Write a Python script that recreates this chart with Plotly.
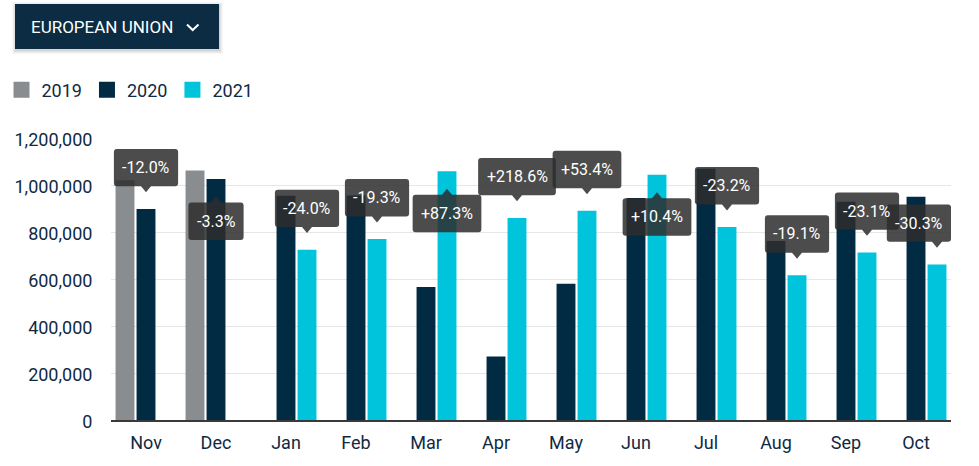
import plotly.graph_objects as go

# ---------------- data ----------------
months = ["Nov", "Dec", "Jan", "Feb", "Mar", "Apr", "May", "Jun", "Jul", "Aug", "Sep", "Oct"]
series_names = ["2019", "2020", "2021"]
sales_2019 = [1020000, 1062000, None, None, None, None, None, None, None, None, None, None]
sales_2020 = [898000, 1026000, 954000, 955000, 566000, 270000, 580000, 945000, 1069000, 762000, 929000, 950000]
sales_2021 = [None, None, 725000, 770000, 1059000, 860000, 890000, 1044000, 821000, 616000, 713000, 662000]
yoy_change = ["-12.0%", "-3.3%", "-24.0%", "-19.3%", "+87.3%", "+218.6%", "+53.4%",
              "+10.4%", "-23.2%", "-19.1%", "-23.1%", "-30.3%"]
y_ticks = [0, 200000, 400000, 600000, 800000, 1000000, 1200000]
region_label = "EUROPEAN UNION"

# ---------------- style ----------------
COLORS = ["#8a8d8f", "#002b42", "#00c3dc"]
TEXT = "#0f2a42"
FONT = "Roboto"
W, H = 979, 466
ML, MR, MT, MB = 111, 28, 138, 46
PW, PH = W - ML - MR, H - MT - MB
tip_below = [False, True, False, False, True, False, False, True, False, False, False, False]

fig = go.Figure()
data = [sales_2019, sales_2020, sales_2021]
for name, vals, col in zip(series_names, data, COLORS):
    fig.add_trace(go.Bar(x=list(range(len(months))), y=vals, name=name, marker_color=col,
                         marker_line_width=0, showlegend=False, legendgroup=name,
                         hoverinfo="skip"))
for name, col in zip(series_names, COLORS):
    fig.add_trace(go.Scatter(x=[None], y=[None], mode="markers", name=name, legendgroup=name,
                             marker=dict(symbol="square", size=16, color=col)))

# ---------------- tooltips ----------------
CW = {"-": 0.27, "+": 0.554, ".": 0.263, "%": 0.732}
def text_w(s, size=16):
    return sum(CW.get(c, 0.5615) for c in s) * size

n = len(months)
group = 0.9
slot = group / 3
shapes = []
annotations = []
for i, lab in enumerate(yoy_change):
    if sales_2021[i] is None:
        off, val = 0.0, sales_2020[i]
    else:
        off, val = slot, sales_2021[i]
    xc = i + off
    cx_px = ML + (xc + 0.5) / n * PW
    bw = text_w(lab) + 17
    dx = 0.0
    if cx_px + bw / 2 > ML + PW:
        dx = (ML + PW) - (cx_px + bw / 2)
    if cx_px - bw / 2 + dx < ML + 2:
        dx = (ML + 2) - (cx_px - bw / 2)
    l, r = -bw / 2 + dx, bw / 2 + dx
    rr = 3
    hw = 5
    if not tip_below[i]:
        tip, yb, yt = 16.6, 22.6, 60.0
        path = (f"M{l+rr},{yt} H{r-rr} Q{r},{yt} {r},{yt-rr} V{yb+rr} Q{r},{yb} {r-rr},{yb} "
                f"H{hw} L0,{tip} L{-hw},{yb} H{l+rr} Q{l},{yb} {l},{yb+rr} V{yt-rr} "
                f"Q{l},{yt} {l+rr},{yt} Z")
        ymid = (yb + yt) / 2
    else:
        tip, yt, yb = -17.7, -23.5, -61.0
        path = (f"M{l+rr},{yt} H{-hw} L0,{tip} L{hw},{yt} H{r-rr} Q{r},{yt} {r},{yt-rr} "
                f"V{yb+rr} Q{r},{yb} {r-rr},{yb} H{l+rr} Q{l},{yb} {l},{yb+rr} "
                f"V{yt-rr} Q{l},{yt} {l+rr},{yt} Z")
        ymid = (yb + yt) / 2
    shapes.append(dict(type="path", xref="x", yref="y", xsizemode="pixel", ysizemode="pixel",
                       xanchor=xc, yanchor=val, path=path, fillcolor="rgba(45,45,45,0.85)",
                       line=dict(width=0), layer="above"))
    annotations.append(dict(x=xc, y=val, xref="x", yref="y", text=lab, showarrow=False,
                            xshift=dx, yshift=ymid, font=dict(family=FONT, size=16, color="white"),
                            xanchor="center", yanchor="middle"))

# ---------------- dropdown button ----------------
def px_x(p):
    return (p - ML) / PW
def px_y(p):
    return (H - MB - p) / PH

for k, a in enumerate([0.05, 0.05, 0.04, 0.03]):
    e = k + 1
    shapes.append(dict(type="rect", xref="paper", yref="paper", x0=px_x(15 - e + 1), x1=px_x(219 + e),
                       y0=px_y(4 - e + 2), y1=px_y(49 + e + 1), fillcolor=f"rgba(0,0,0,{a})",
                       line=dict(width=0), layer="above"))
shapes.append(dict(type="rect", xref="paper", yref="paper", x0=px_x(15), x1=px_x(219),
                   y0=px_y(4), y1=px_y(49), fillcolor="#0b2c42", line=dict(width=0), layer="above"))
shapes.append(dict(type="path", xref="paper", yref="paper",
                   path=f"M{px_x(187)},{px_y(24.5)} L{px_x(192.7)},{px_y(30)} L{px_x(198.5)},{px_y(24.5)}",
                   line=dict(color="white", width=2), layer="above"))
annotations.append(dict(x=px_x(29), y=px_y(26.5), xref="paper", yref="paper", text=region_label,
                        showarrow=False, xanchor="left", yanchor="middle",
                        font=dict(family=FONT, size=17, color="white")))

fig.update_layout(
    width=W, height=H, margin=dict(l=ML, r=MR, t=MT, b=MB),
    paper_bgcolor="white", plot_bgcolor="white",
    barmode="group", bargap=0.1, bargroupgap=0.1,
    font=dict(family=FONT, color=TEXT, size=18),
    shapes=shapes, annotations=annotations,
    legend=dict(orientation="h", xref="container", yref="container", x=1.5 / W, xanchor="left",
                y=1 - 90 / H, yanchor="middle", font=dict(family=FONT, size=18, color=TEXT),
                bgcolor="rgba(0,0,0,0)", itemwidth=30, traceorder="normal"),
    xaxis=dict(range=[-0.5, n - 0.5], tickvals=list(range(n)), ticktext=months,
               showgrid=False, zeroline=False, showline=True, linecolor="#3a3a3a", linewidth=2,
               ticks="outside", ticklen=5, tickcolor="rgba(0,0,0,0)",
               tickfont=dict(family=FONT, size=18, color=TEXT), fixedrange=True),
    yaxis=dict(range=[0, 1200000], tickvals=y_ticks, tickformat=",", showgrid=True,
               gridcolor="#e6e6e6", gridwidth=1, zeroline=False, showline=False,
               ticks="outside", ticklen=14, tickcolor="rgba(0,0,0,0)", ticklabelshift=2,
               tickfont=dict(family=FONT, size=18, color=TEXT), fixedrange=True),
    hovermode=False,
)

fig.write_html("out.html", config={"displayModeBar": False})
